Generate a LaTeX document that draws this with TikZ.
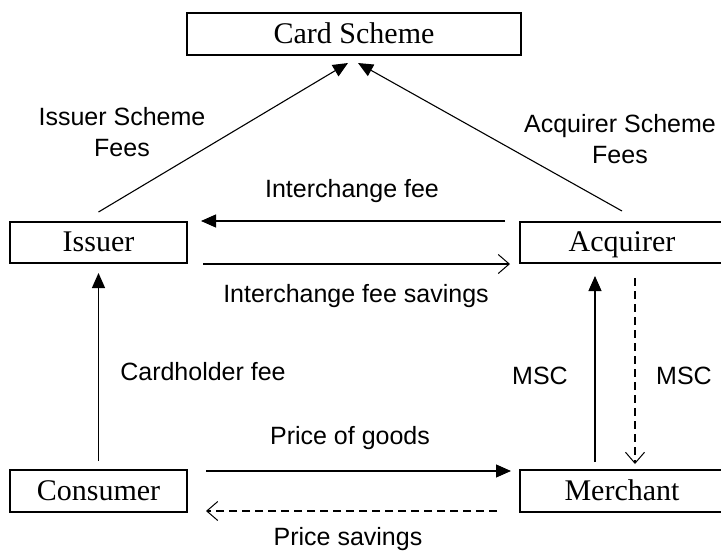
\documentclass[tikz,border=0pt]{standalone}
\usepackage{fontspec}
\setmainfont{Liberation Serif}
\newfontfamily\arialf{Liberation Sans}
\usetikzlibrary{arrows.meta}
\tikzset{
  boxnode/.style={draw, line width=2pt, inner sep=0pt, text height=18pt, text depth=0pt, font=\fontsize{30}{34}\selectfont},
  lbl/.style={font=\arialf\fontsize{25}{31}\selectfont, align=center, inner sep=0pt},
  conn/.style={line width=1.1pt},
  solidtip/.style={-{Triangle[length=15pt,width=13pt]}},
  opentip/.style={-{Straight Barb[length=11pt,width=19pt,line width=1pt]}},
  dsh/.style={dash pattern=on 8pt off 5pt}
}
\begin{document}
\begin{tikzpicture}[x=1pt,y=-1pt]
\useasboundingbox (0,0) rectangle (721,558);
\node[boxnode, minimum width=334pt, minimum height=42pt] (cs) at (354,34) {Card Scheme};
\node[boxnode, minimum width=177pt, minimum height=41pt] (iss) at (98.5,242.5) {Issuer};
\node[boxnode, minimum width=204pt, minimum height=41pt] (acq) at (622,242.5) {Acquirer};
\node[boxnode, minimum width=177pt, minimum height=42pt] (con) at (98.5,491) {Consumer};
\node[boxnode, minimum width=204pt, minimum height=42pt] (mer) at (622,491) {Merchant};

\node[lbl] (isf) at (122,132) {Issuer Scheme\\Fees};
\node[lbl] (asf) at (620,139) {Acquirer Scheme\\Fees};
\node[lbl] (icf) at (352,191) {Interchange fee};
\node[lbl] (ics) at (356,296) {Interchange fee savings};
\node[lbl] (chf) at (203,372) {Cardholder fee};
\node[lbl] (msc1) at (540,376) {MSC};
\node[lbl] (msc2) at (684,376) {MSC};
\node[lbl] (pog) at (350,438) {Price of goods};
\node[lbl] (ps) at (348,539) {Price savings};

\draw[conn, solidtip] ([yshift=9pt]iss.north) -- ([xshift=-6pt,yshift=-7pt]cs.south);
\draw[conn, solidtip] ([yshift=10pt]acq.north) -- ([xshift=4pt,yshift=-7pt]cs.south);
\draw[conn, solidtip] ([xshift=-14pt]acq.north west) -- ([xshift=13pt]iss.north east);
\draw[conn, opentip] ([xshift=15pt]iss.south east) -- ([xshift=-9pt]acq.south west);
\draw[conn, solidtip] ([yshift=8pt]con.north) -- ([yshift=-9pt]iss.south);
\draw[conn, solidtip] ([xshift=-27pt,yshift=7pt]mer.north) -- ([xshift=-27pt,yshift=-12pt]acq.south);
\draw[conn, dsh, opentip] ([xshift=13pt,yshift=-14pt]acq.south) -- ([xshift=13pt,yshift=5pt]mer.north);
\draw[conn, solidtip] ([xshift=18pt,yshift=-2pt]con.north east) -- ([xshift=-8pt,yshift=-2pt]mer.north west);
\draw[conn, dsh, opentip] ([xshift=-22pt,yshift=2pt]mer.south west) -- ([xshift=18pt,yshift=2pt]con.south east);
\end{tikzpicture}
\end{document}
